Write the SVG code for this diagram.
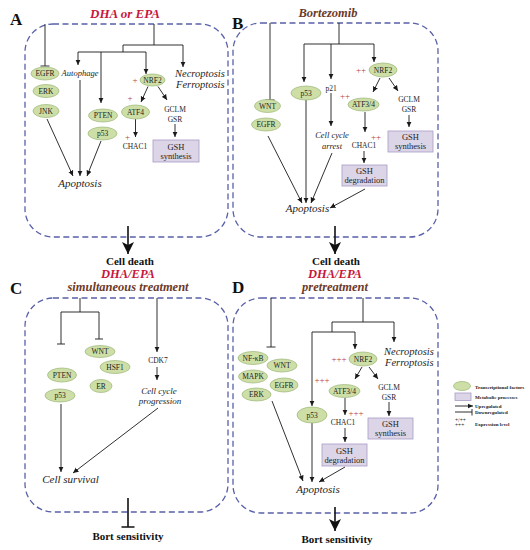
<svg xmlns="http://www.w3.org/2000/svg" width="530" height="550" viewBox="0 0 530 550">
<defs>
<marker id="ah" markerWidth="6" markerHeight="6" refX="5.5" refY="3" orient="auto" markerUnits="userSpaceOnUse"><path d="M0,0.4 L5.5,3 L0,5.6 z" fill="#1a1a1a"/></marker>
<marker id="big" markerWidth="14" markerHeight="14" refX="12" refY="6" orient="auto" markerUnits="userSpaceOnUse"><path d="M0,0 L12,6 L0,12 L3,6 z" fill="#111"/></marker>
<style>
.c{fill:none;stroke:#1a1a1a;stroke-width:0.9}
.a{marker-end:url(#ah)}
.bg{fill:none;stroke:#111;stroke-width:1.6}
.bga{marker-end:url(#big)}
.box{fill:none;stroke:#5860a8;stroke-width:1.3;stroke-dasharray:6 3.5}
.tf{fill:#cddfa6;stroke:#9bb577;stroke-width:0.7}
.mp{fill:#dcd5e8;stroke:#a89bc6;stroke-width:0.8}
text{font-family:"Liberation Serif","Times New Roman",serif;fill:#1e1e1e}
.n{font-size:7.5px;text-anchor:middle}
.m{font-size:8.5px;text-anchor:middle}
.i{font-style:italic}
.t{font-weight:bold;font-style:italic;text-anchor:middle}
.red{fill:#c8163c}
.brn{fill:#6b3a2a}
.pl{fill:#b8433a;font-size:9px;text-anchor:middle}
.b{font-weight:bold;text-anchor:middle;font-size:11px;fill:#111}
.L{font-weight:bold;font-size:17px;fill:#111}
.lg{font-weight:bold;font-size:5px;fill:#222}
</style>
</defs>
<rect width="530" height="550" fill="#fff"/>

<!-- Panel frames and titles -->
<g id="panelA">
<rect class="box" x="25" y="24" width="203" height="213" rx="28"/>
<text class="L" x="10" y="25">A</text>
<text class="t red" x="125" y="18" font-size="13">DHA or EPA</text>
</g>
<g id="panelB">
<rect class="box" x="233" y="23" width="205" height="214" rx="28"/>
<text class="L" x="232" y="29">B</text>
<text class="t brn" x="328" y="17" font-size="12.5">Bortezomib</text>
</g>
<g id="panelC">
<rect class="box" x="25" y="298" width="203" height="214" rx="28"/>
<text class="L" x="10" y="294">C</text>
<text class="t red" x="128" y="278" font-size="12.5">DHA/EPA</text>
<text class="t brn" x="128" y="290.5" font-size="12.5">simultaneous treatment</text>
</g>
<g id="panelD">
<rect class="box" x="233" y="298" width="205" height="215" rx="28"/>
<text class="L" x="232" y="293">D</text>
<text class="t red" x="335" y="278" font-size="12.5">DHA/EPA</text>
<text class="t brn" x="335" y="290.5" font-size="12.5">pretreatment</text>
</g>

<!-- Connectors -->
<g id="connectors">
<!-- A -->
<path class="c" d="M154,24 V45 M123,45 H183 M123,45 V52 M78,52 H146"/>
<path class="c a" d="M78,52 V65"/>
<path class="c a" d="M101,52 V103"/>
<path class="c a" d="M146,52 V74"/>
<path class="c a" d="M183,45 V67"/>
<path class="c" d="M45,24 V66 M40.5,66 H49.5"/>
<path class="c a" d="M148,86.5 L141,102"/>
<path class="c a" d="M158,86.5 L167,100"/>
<path class="c a" d="M135.5,119 V137"/>
<path class="c a" d="M175,124 V137"/>
<path class="c a" d="M80,80 V176"/>
<path class="c a" d="M47,119 L73,176"/>
<path class="c a" d="M101,141 L87,176"/>
<path class="bg bga" d="M128,226 V254"/>
<!-- B -->
<path class="c" d="M339,23 V44 M304,44 H374"/>
<path class="c a" d="M304,44 V82"/>
<path class="c a" d="M331,44 V79"/>
<path class="c a" d="M374,44 V62"/>
<path class="c" d="M270,23 V100 M265.5,100 H274.5"/>
<path class="c a" d="M380,78 L373,92"/>
<path class="c a" d="M389,78 L398,91"/>
<path class="c a" d="M331,93 V126"/>
<path class="c a" d="M365,112 V132"/>
<path class="c a" d="M409,115 V127"/>
<path class="c a" d="M364,151 V163"/>
<path class="c a" d="M268,136 L302,203"/>
<path class="c a" d="M306,100 V203"/>
<path class="c a" d="M332,153 L311,203"/>
<path class="c a" d="M365,189 L330,208"/>
<path class="bg bga" d="M335,226 V254"/>
<!-- C -->
<path class="c" d="M80,298 V312 M61,312 H99 M61,312 V344 M57,344 H65 M99,312 V339 M95,339 H103"/>
<path class="c a" d="M157,298 V352"/>
<path class="c a" d="M157,367 V380"/>
<path class="c a" d="M61,404 V472"/>
<path class="c a" d="M158,408 L73,473"/>
<path class="bg" d="M128,498 V527 M121.5,527 H134.5"/>
<!-- D -->
<path class="c" d="M363,298 V322 M332,322 H394 M332,322 V332 M312,332 H355"/>
<path class="c a" d="M394,322 V342"/>
<path class="c a" d="M355,332 V349"/>
<path class="c a" d="M312,332 V406"/>
<path class="c" d="M271,298 V347 M266.5,347 H275.5"/>
<path class="c a" d="M362,367 L355,379"/>
<path class="c a" d="M369,367 L378,379"/>
<path class="c a" d="M345,398 V415"/>
<path class="c a" d="M389,402 V416"/>
<path class="c a" d="M345,428 V442"/>
<path class="c a" d="M272,401 L303,481"/>
<path class="c a" d="M312,423 V482"/>
<path class="c a" d="M345,467 L319,482"/>
<path class="bg bga" d="M335,507 V531"/>
<!-- legend -->
<path class="c a" d="M455,406 H473"/>
<path class="c" d="M455,412 H472 M472,409 V415.5"/>
</g>

<!-- Panel A nodes -->
<g id="A-EGFR"><ellipse class="tf" cx="45" cy="73.5" rx="14" ry="6.5"/><text class="n" x="45" y="76.2">EGFR</text></g>
<g id="A-ERK"><ellipse class="tf" cx="46" cy="91" rx="13" ry="6.5"/><text class="n" x="46" y="93.7">ERK</text></g>
<g id="A-JNK"><ellipse class="tf" cx="46" cy="111" rx="13" ry="6.5"/><text class="n" x="46" y="113.7">JNK</text></g>
<g id="A-PTEN"><ellipse class="tf" cx="103" cy="115.5" rx="14.5" ry="6.5"/><text class="n" x="103" y="118.2">PTEN</text></g>
<g id="A-p53"><ellipse class="tf" cx="102.5" cy="133.5" rx="14.5" ry="6.5"/><text class="n" x="102.5" y="136.2">p53</text></g>
<g id="A-NRF2"><ellipse class="tf" cx="152.5" cy="80" rx="12.5" ry="6"/><text class="n" x="152.5" y="82.7">NRF2</text></g>
<g id="A-ATF4"><ellipse class="tf" cx="135.5" cy="112" rx="14" ry="7"/><text class="n" x="135.5" y="114.7">ATF4</text></g>
<g id="A-autophage"><text class="i" x="80" y="76" font-size="8.5" text-anchor="middle">Autophage</text></g>
<g id="A-necro"><text class="i" x="175" y="77" font-size="10.5">Necroptosis</text><text class="i" x="176" y="88" font-size="10.5">Ferroptosis</text></g>
<g id="A-GCLM"><text class="n" x="175" y="112">GCLM</text><text class="n" x="175" y="122">GSR</text></g>
<g id="A-CHAC1"><text class="n" x="135" y="148.5">CHAC1</text></g>
<g id="A-plus"><text class="pl" x="135" y="83">+</text><text class="pl" x="130" y="101">+</text><text class="pl" x="127.5" y="140" font-size="8">+</text></g>
<g id="A-GSHsyn"><rect class="mp" x="153" y="140" width="46" height="22"/><text class="m" x="176" y="149.5">GSH</text><text class="m" x="176" y="158.5">synthesis</text></g>
<g id="A-apoptosis"><text class="i" x="80" y="187" font-size="11" text-anchor="middle">Apoptosis</text></g>
<g id="A-celldeath"><text class="b" x="130" y="265">Cell death</text></g>

<!-- Panel B nodes -->
<g id="B-WNT"><ellipse class="tf" cx="267.5" cy="106" rx="13" ry="6.5"/><text class="n" x="267.5" y="108.7">WNT</text></g>
<g id="B-EGFR"><ellipse class="tf" cx="266" cy="124.5" rx="14.5" ry="6.5"/><text class="n" x="266" y="127.2">EGFR</text></g>
<g id="B-p53"><ellipse class="tf" cx="306" cy="93" rx="15" ry="7"/><text class="n" x="306" y="95.7">p53</text></g>
<g id="B-NRF2"><ellipse class="tf" cx="383" cy="70" rx="14" ry="7"/><text class="n" x="383" y="72.7">NRF2</text></g>
<g id="B-ATF34"><ellipse class="tf" cx="363.5" cy="104.5" rx="15.5" ry="6.5"/><text class="n" x="363.5" y="107.2">ATF3/4</text></g>
<g id="B-p21"><text class="n" x="331" y="91">p21</text></g>
<g id="B-plus"><text class="pl" x="361" y="73">++</text><text class="pl" x="345" y="99">++</text><text class="pl" x="376" y="140">++</text></g>
<g id="B-GCLM"><text class="n" x="409" y="102">GCLM</text><text class="n" x="409" y="112">GSR</text></g>
<g id="B-CHAC1"><text class="n" x="364" y="147.5">CHAC1</text></g>
<g id="B-cellcycle"><text class="i" x="332" y="138" font-size="8.5" text-anchor="middle">Cell cycle</text><text class="i" x="332" y="148.5" font-size="8.5" text-anchor="middle">arrest</text></g>
<g id="B-GSHsyn"><rect class="mp" x="388" y="131" width="45" height="21"/><text class="m" x="410.5" y="140">GSH</text><text class="m" x="410.5" y="149">synthesis</text></g>
<g id="B-GSHdeg"><rect class="mp" x="342" y="165" width="45" height="21"/><text class="m" x="364.5" y="174">GSH</text><text class="m" x="364.5" y="183">degradation</text></g>
<g id="B-apoptosis"><text class="i" x="307.5" y="212" font-size="11" text-anchor="middle">Apoptosis</text></g>
<g id="B-celldeath"><text class="b" x="336" y="265">Cell death</text></g>

<!-- Panel C nodes -->
<g id="C-WNT"><ellipse class="tf" cx="100" cy="351.5" rx="15" ry="6"/><text class="n" x="100" y="354.2">WNT</text></g>
<g id="C-HSF1"><ellipse class="tf" cx="115" cy="367" rx="15" ry="6.5"/><text class="n" x="115" y="369.7">HSF1</text></g>
<g id="C-ER"><ellipse class="tf" cx="101" cy="386" rx="11" ry="6.5"/><text class="n" x="101" y="388.7">ER</text></g>
<g id="C-PTEN"><ellipse class="tf" cx="62" cy="375" rx="14.5" ry="7"/><text class="n" x="62" y="377.7">PTEN</text></g>
<g id="C-p53"><ellipse class="tf" cx="60" cy="395.5" rx="15" ry="6.5"/><text class="n" x="60" y="398.2">p53</text></g>
<g id="C-CDK7"><text class="n" x="158" y="363">CDK7</text></g>
<g id="C-cellcycle"><text class="i" x="159" y="394" font-size="9" text-anchor="middle">Cell cycle</text><text class="i" x="160" y="403.5" font-size="9" text-anchor="middle">progression</text></g>
<g id="C-survival"><text class="i" x="70.5" y="483" font-size="11" text-anchor="middle">Cell survival</text></g>
<g id="C-bort"><text class="b" x="128" y="540">Bort sensitivity</text></g>

<!-- Panel D nodes -->
<g id="D-NFkB"><ellipse class="tf" cx="253" cy="358" rx="15" ry="6.5"/><text class="n" x="253" y="360.7">NF-κB</text></g>
<g id="D-WNT"><ellipse class="tf" cx="282" cy="365.5" rx="15" ry="6.5"/><text class="n" x="282" y="368.2">WNT</text></g>
<g id="D-MAPK"><ellipse class="tf" cx="253" cy="376.5" rx="14.5" ry="6.5"/><text class="n" x="253" y="379.2">MAPK</text></g>
<g id="D-EGFR"><ellipse class="tf" cx="284" cy="385" rx="14" ry="7"/><text class="n" x="284" y="387.7">EGFR</text></g>
<g id="D-ERK"><ellipse class="tf" cx="256.5" cy="394.5" rx="14.5" ry="6.5"/><text class="n" x="256.5" y="397.2">ERK</text></g>
<g id="D-NRF2"><ellipse class="tf" cx="363" cy="359" rx="14" ry="7"/><text class="n" x="363" y="361.7">NRF2</text></g>
<g id="D-ATF34"><ellipse class="tf" cx="344.5" cy="391" rx="15.5" ry="6.5"/><text class="n" x="344.5" y="393.7">ATF3/4</text></g>
<g id="D-p53"><ellipse class="tf" cx="312" cy="415" rx="15" ry="8"/><text class="n" x="312" y="417.7">p53</text></g>
<g id="D-plus"><text class="pl" x="339" y="362">+++</text><text class="pl" x="322" y="383">+++</text><text class="pl" x="356" y="416">+++</text></g>
<g id="D-necro"><text class="i" x="384" y="355" font-size="10.5">Necroptosis</text><text class="i" x="385" y="366" font-size="10.5">Ferroptosis</text></g>
<g id="D-GCLM"><text class="n" x="389" y="390">GCLM</text><text class="n" x="389" y="399.5">GSR</text></g>
<g id="D-CHAC1"><text class="n" x="343" y="424.5">CHAC1</text></g>
<g id="D-GSHsyn"><rect class="mp" x="368" y="418" width="45" height="21"/><text class="m" x="390.5" y="427">GSH</text><text class="m" x="390.5" y="436">synthesis</text></g>
<g id="D-GSHdeg"><rect class="mp" x="322" y="444" width="45" height="22"/><text class="m" x="344.5" y="453.5">GSH</text><text class="m" x="344.5" y="462.5">degradation</text></g>
<g id="D-apoptosis"><text class="i" x="318" y="493" font-size="11" text-anchor="middle">Apoptosis</text></g>
<g id="D-bort"><text class="b" x="337" y="543">Bort sensitivity</text></g>

<!-- Legend -->
<g id="legend">
<ellipse class="tf" cx="462" cy="386" rx="8.5" ry="4.5"/>
<text class="lg" x="475" y="389">Transcriptional factors</text>
<rect class="mp" x="455" y="393" width="16" height="7.5"/>
<text class="lg" x="475" y="399">Metabolic processes</text>
<text class="lg" x="475" y="408">Upregulated</text>
<text class="lg" x="475" y="414">Downregulated</text>
<text x="455" y="421.5" font-size="5.5" fill="#c8163c">+/++</text>
<text x="455" y="427" font-size="5.5" fill="#c8163c">+++</text>
<text class="lg" x="475" y="426">Expression level</text>
</g>
</svg>
